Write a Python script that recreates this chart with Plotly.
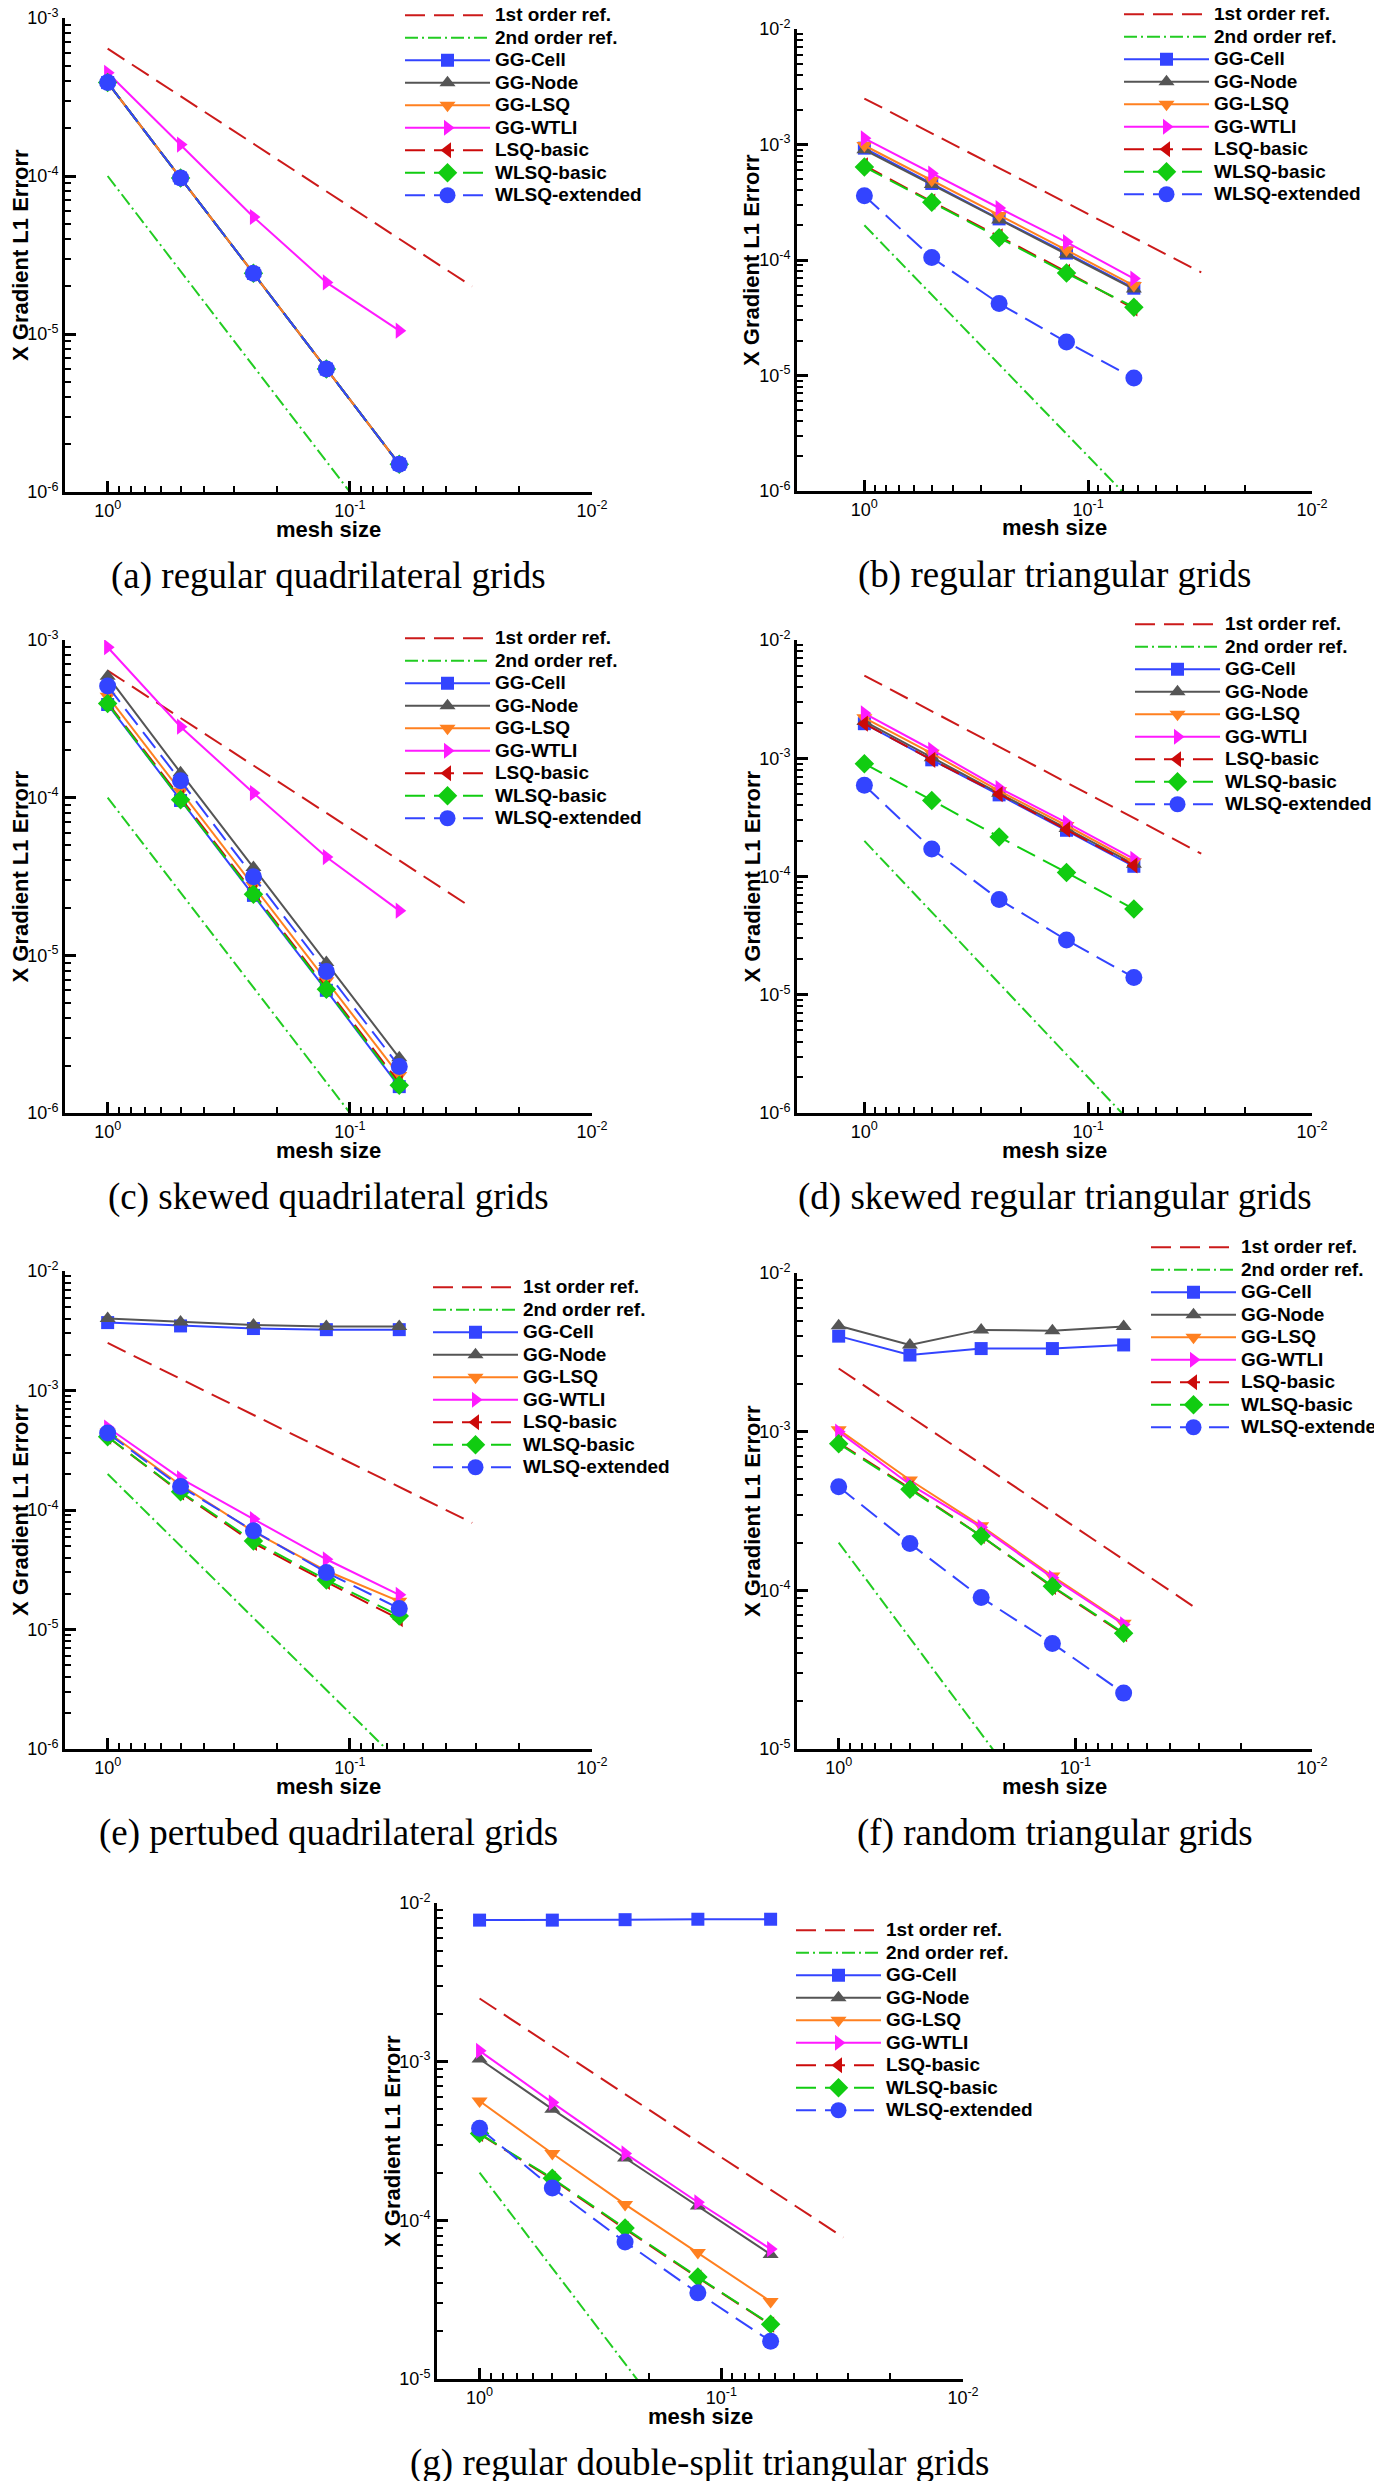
import plotly.graph_objects as go

W, H = 1382, 2481

# ---------------- data ----------------
mesh = [1.0, 0.5, 0.25, 0.125, 0.0625]
ref_mesh = [1.0, 0.03125]

series_names = ["1st order ref.", "2nd order ref.", "GG-Cell", "GG-Node", "GG-LSQ",
                "GG-WTLI", "LSQ-basic", "WLSQ-basic", "WLSQ-extended"]

x_tickvals = [1.0, 0.1, 0.01]
x_ticktext = ["10<sup>0</sup>", "10<sup>-1</sup>", "10<sup>-2</sup>"]
y_tickvals = [1e-6, 1e-5, 1e-4, 1e-3, 1e-2]
y_ticktext = ["10<sup>-6</sup>", "10<sup>-5</sup>", "10<sup>-4</sup>", "10<sup>-3</sup>", "10<sup>-2</sup>"]

x_title = "mesh size"
y_title = "X Gradient L1 Errorr"

captions = ["(a) regular quadrilateral grids", "(b) regular triangular grids",
            "(c) skewed quadrilateral grids", "(d) skewed regular triangular grids",
            "(e) pertubed quadrilateral grids", "(f) random triangular grids",
            "(g) regular double-split triangular grids"]

# (a) regular quadrilateral
a_ref1 = [6.4e-4, 2.0e-5]
a_ref2 = [1.0e-4, 9.8e-8]
a_cell = [3.9e-4, 9.7e-5, 2.42e-5, 6.0e-6, 1.5e-6]
a_node = [3.9e-4, 9.7e-5, 2.42e-5, 6.0e-6, 1.5e-6]
a_lsq = [3.9e-4, 9.7e-5, 2.42e-5, 6.0e-6, 1.5e-6]
a_wtli = [4.5e-4, 1.58e-4, 5.5e-5, 2.12e-5, 1.05e-5]
a_lsqb = [3.9e-4, 9.7e-5, 2.42e-5, 6.0e-6, 1.5e-6]
a_wlsqb = [3.9e-4, 9.7e-5, 2.42e-5, 6.0e-6, 1.5e-6]
a_wlsqe = [3.9e-4, 9.7e-5, 2.42e-5, 6.0e-6, 1.5e-6]

# (b) regular triangular
b_ref1 = [2.5e-3, 7.8e-5]
b_ref2 = [2.0e-4, 1.95e-7]
b_cell = [9.3e-4, 4.6e-4, 2.27e-4, 1.15e-4, 5.7e-5]
b_node = [9.0e-4, 4.5e-4, 2.22e-4, 1.12e-4, 5.6e-5]
b_lsq = [9.8e-4, 4.9e-4, 2.43e-4, 1.22e-4, 6.0e-5]
b_wtli = [1.13e-3, 5.6e-4, 2.82e-4, 1.43e-4, 6.9e-5]
b_lsqb = [6.6e-4, 3.2e-4, 1.6e-4, 7.9e-5, 3.8e-5]
b_wlsqb = [6.4e-4, 3.16e-4, 1.56e-4, 7.7e-5, 3.9e-5]
b_wlsqe = [3.6e-4, 1.05e-4, 4.2e-5, 1.95e-5, 9.5e-6]

# (c) skewed quadrilateral
c_ref1 = [6.4e-4, 2.0e-5]
c_ref2 = [1.0e-4, 9.8e-8]
c_cell = [3.9e-4, 9.6e-5, 2.4e-5, 6.0e-6, 1.47e-6]
c_node = [5.9e-4, 1.44e-4, 3.6e-5, 9.0e-6, 2.24e-6]
c_lsq = [4.4e-4, 1.1e-4, 2.77e-5, 6.9e-6, 1.73e-6]
c_wtli = [9.0e-4, 2.82e-4, 1.07e-4, 4.2e-5, 1.92e-5]
c_lsqb = [4.0e-4, 1.0e-4, 2.5e-5, 6.2e-6, 1.55e-6]
c_wlsqb = [3.95e-4, 9.7e-5, 2.44e-5, 6.1e-6, 1.5e-6]
c_wlsqe = [5.1e-4, 1.28e-4, 3.15e-5, 7.9e-6, 1.97e-6]

# (d) skewed regular triangular
d_ref1 = [5.0e-3, 1.56e-4]
d_ref2 = [2.0e-4, 1.95e-7]
d_cell = [1.96e-3, 9.7e-4, 4.9e-4, 2.46e-4, 1.22e-4]
d_node = [2.05e-3, 1.01e-3, 5.05e-4, 2.55e-4, 1.27e-4]
d_lsq = [2.2e-3, 1.1e-3, 5.3e-4, 2.7e-4, 1.33e-4]
d_wtli = [2.4e-3, 1.18e-3, 5.6e-4, 2.85e-4, 1.41e-4]
d_lsqb = [1.96e-3, 9.7e-4, 4.97e-4, 2.5e-4, 1.24e-4]
d_wlsqb = [9.0e-4, 4.4e-4, 2.16e-4, 1.08e-4, 5.3e-5]
d_wlsqe = [5.9e-4, 1.71e-4, 6.4e-5, 2.9e-5, 1.4e-5]

# (e) perturbed quadrilateral
e_ref1 = [2.5e-3, 7.8e-5]
e_ref2 = [2.0e-4, 1.95e-7]
e_cell = [3.7e-3, 3.47e-3, 3.3e-3, 3.23e-3, 3.23e-3]
e_node = [4.0e-3, 3.75e-3, 3.53e-3, 3.43e-3, 3.43e-3]
e_lsq = [4.5e-4, 1.62e-4, 6.6e-5, 3.1e-5, 1.72e-5]
e_wtli = [4.9e-4, 1.84e-4, 8.4e-5, 3.87e-5, 1.95e-5]
e_lsqb = [4.1e-4, 1.4e-4, 5.3e-5, 2.5e-5, 1.22e-5]
e_wlsqb = [4.1e-4, 1.42e-4, 5.5e-5, 2.6e-5, 1.3e-5]
e_wlsqe = [4.4e-4, 1.57e-4, 6.7e-5, 3.0e-5, 1.5e-5]

# (f) random triangular
f_ref1 = [2.5e-3, 7.8e-5]
f_ref2 = [2.0e-4, 1.95e-7]
f_cell = [4.0e-3, 3.04e-3, 3.34e-3, 3.34e-3, 3.52e-3]
f_node = [4.65e-3, 3.52e-3, 4.38e-3, 4.33e-3, 4.6e-3]
f_lsq = [1.03e-3, 4.96e-4, 2.55e-4, 1.23e-4, 6.2e-5]
f_wtli = [1.0e-3, 4.65e-4, 2.5e-4, 1.2e-4, 6.1e-5]
f_lsqb = [8.5e-4, 4.4e-4, 2.2e-4, 1.05e-4, 5.3e-5]
f_wlsqb = [8.4e-4, 4.33e-4, 2.2e-4, 1.06e-4, 5.37e-5]
f_wlsqe = [4.5e-4, 1.97e-4, 9.0e-5, 4.63e-5, 2.25e-5]

# (g) regular double-split triangular
g_ref1 = [2.5e-3, 7.8e-5]
g_ref2 = [2.0e-4, 1.95e-7]
g_cell = [7.8e-3, 7.8e-3, 7.85e-3, 7.9e-3, 7.9e-3]
g_node = [1.04e-3, 5.02e-4, 2.47e-4, 1.23e-4, 6.1e-5]
g_lsq = [5.65e-4, 2.64e-4, 1.26e-4, 6.27e-5, 3.08e-5]
g_wtli = [1.17e-3, 5.52e-4, 2.64e-4, 1.3e-4, 6.59e-5]
g_lsqb = [3.5e-4, 1.82e-4, 8.8e-5, 4.35e-5, 2.2e-5]
g_wlsqb = [3.52e-4, 1.84e-4, 8.94e-5, 4.39e-5, 2.21e-5]
g_wlsqe = [3.8e-4, 1.6e-4, 7.3e-5, 3.49e-5, 1.73e-5]

panel_data = [
    [a_ref1, a_ref2, a_cell, a_node, a_lsq, a_wtli, a_lsqb, a_wlsqb, a_wlsqe],
    [b_ref1, b_ref2, b_cell, b_node, b_lsq, b_wtli, b_lsqb, b_wlsqb, b_wlsqe],
    [c_ref1, c_ref2, c_cell, c_node, c_lsq, c_wtli, c_lsqb, c_wlsqb, c_wlsqe],
    [d_ref1, d_ref2, d_cell, d_node, d_lsq, d_wtli, d_lsqb, d_wlsqb, d_wlsqe],
    [e_ref1, e_ref2, e_cell, e_node, e_lsq, e_wtli, e_lsqb, e_wlsqb, e_wlsqe],
    [f_ref1, f_ref2, f_cell, f_node, f_lsq, f_wtli, f_lsqb, f_wlsqb, f_wlsqe],
    [g_ref1, g_ref2, g_cell, g_node, g_lsq, g_wtli, g_lsqb, g_wlsqb, g_wlsqe],
]

# ---------------- styles ----------------
DASH = "20px,9px"
DASHDOT = "13px,4px,2px,4px"
styles = [
    dict(color="#cc1a1a", dash=DASH, symbol=None, size=0),
    dict(color="#22cc22", dash=DASHDOT, symbol=None, size=0),
    dict(color="#3344ff", dash="solid", symbol="square", size=13),
    dict(color="#555555", dash="solid", symbol="triangle-up", size=14),
    dict(color="#ff8020", dash="solid", symbol="triangle-down", size=14),
    dict(color="#ff1aff", dash="solid", symbol="triangle-right", size=14),
    dict(color="#cc0a0a", dash=DASH, symbol="triangle-left", size=14),
    dict(color="#11cc11", dash=DASH, symbol="diamond", size=15),
    dict(color="#3344ff", dash=DASH, symbol="circle", size=17),
]

# panel geometry in pixels
panels = [
    dict(l=57, r=584, t=10, b=484, xmax=0.1761, yr=[-6, -3], lx=487, ly=8),
    dict(l=789, r=1304, t=21, b=483, xmax=0.30103, yr=[-6, -2], lx=1206, ly=7),
    dict(l=57, r=584, t=632, b=1105, xmax=0.1761, yr=[-6, -3], lx=487, ly=631),
    dict(l=789, r=1304, t=632, b=1105, xmax=0.30103, yr=[-6, -2], lx=1217, ly=617),
    dict(l=57, r=584, t=1263, b=1741, xmax=0.1761, yr=[-6, -2], lx=515, ly=1280),
    dict(l=789, r=1304, t=1265, b=1741, xmax=0.1761, yr=[-5, -2], lx=1233, ly=1240),
    dict(l=429, r=955, t=1895, b=2371, xmax=0.1761, yr=[-5, -2], lx=878, ly=1923),
]
CAPTION_GAP = 84
XTITLE_GAP = 37
YTITLE_GAP = 45

x_minor = [0.9, 0.8, 0.7, 0.6, 0.5, 0.4, 0.3, 0.2, 0.09, 0.08, 0.07, 0.06, 0.05, 0.04, 0.03, 0.02]
y_minor = [m * 10.0 ** e for e in range(-7, -1) for m in range(2, 10)]

ITEMW = 85
LEG_FS = 15
LEG_TXT = 19

fig = go.Figure()
layout = dict(
    width=W, height=H, margin=dict(l=0, r=0, t=0, b=0, autoexpand=False),
    paper_bgcolor="white", plot_bgcolor="white",
    font=dict(family="Liberation Sans, Arial, sans-serif", color="black"),
    showlegend=True,
)
annotations = []

for i, (p, data) in enumerate(zip(panels, panel_data)):
    n = i + 1
    xa = "x" if n == 1 else f"x{n}"
    ya = "y" if n == 1 else f"y{n}"
    lg = "legend" if n == 1 else f"legend{n}"
    for k, (name, st, vals) in enumerate(zip(series_names, styles, data)):
        is_ref = k < 2
        tr = go.Scatter(
            x=ref_mesh if is_ref else mesh, y=vals,
            name=f'<span style="font-size:{LEG_TXT}px">{name}</span>',
            xaxis=xa, yaxis=ya, legend=lg,
            mode="lines" if is_ref else "lines+markers",
            line=dict(color=st["color"], width=2, dash=st["dash"]),
            showlegend=True,
        )
        if not is_ref:
            tr.marker = dict(symbol=st["symbol"], size=st["size"], color=st["color"],
                             line=dict(width=0))
        fig.add_trace(tr)

    axis_common = dict(
        type="log", showline=True, linewidth=3, linecolor="black", mirror=False,
        showgrid=False, zeroline=False, ticks="inside", ticklen=11, tickwidth=3,
        tickcolor="black", tickfont=dict(size=18, color="black"),
        ticklabeloverflow="allow",
    )
    layout["xaxis" if n == 1 else f"xaxis{n}"] = dict(
        axis_common, anchor=ya,
        domain=[p["l"] / W, p["r"] / W],
        range=[p["xmax"], -2],
        tickmode="array", tickvals=x_tickvals, ticktext=x_ticktext,
        minor=dict(ticks="inside", ticklen=6, tickwidth=1.5, tickcolor="black",
                   tickmode="array", tickvals=x_minor, showgrid=False),
    )
    layout["yaxis" if n == 1 else f"yaxis{n}"] = dict(
        axis_common, anchor=xa,
        domain=[1 - p["b"] / H, 1 - p["t"] / H],
        range=p["yr"],
        tickmode="array", tickvals=y_tickvals, ticktext=y_ticktext,
        minor=dict(ticks="inside", ticklen=6, tickwidth=1.5, tickcolor="black",
                   tickmode="array", tickvals=y_minor, showgrid=False),
    )
    layout[lg] = dict(
        x=(p["lx"] - ITEMW - 10) / W, y=1 - (p["ly"] - 17) / H,
        xanchor="left", yanchor="top",
        bgcolor="rgba(0,0,0,0)", borderwidth=0, itemwidth=ITEMW,
        font=dict(size=LEG_FS, color="black", weight="bold"),
        tracegroupgap=0, traceorder="normal",
    )
    pw = p["r"] - p["l"]
    ph = p["b"] - p["t"]
    # axis titles
    annotations.append(dict(
        text=f"<b>{x_title}</b>", xref=f"{xa} domain", yref=f"{ya} domain",
        x=0.5, y=-XTITLE_GAP / ph, xanchor="center", yanchor="middle", showarrow=False,
        font=dict(size=22, color="black"),
    ))
    annotations.append(dict(
        text=f"<b>{y_title}</b>", xref=f"{xa} domain", yref=f"{ya} domain",
        x=-YTITLE_GAP / pw, y=0.5, xanchor="center", yanchor="middle", showarrow=False,
        textangle=-90, font=dict(size=22, color="black"),
    ))
    # caption
    annotations.append(dict(
        text=captions[i], xref=f"{xa} domain", yref=f"{ya} domain",
        x=0.5, y=-CAPTION_GAP / ph, xanchor="center", yanchor="middle",
        showarrow=False,
        font=dict(family="Liberation Serif, Times New Roman, serif", size=37, color="black"),
    ))

layout["annotations"] = annotations
fig.update_layout(**layout)
fig.write_html("out.html")
